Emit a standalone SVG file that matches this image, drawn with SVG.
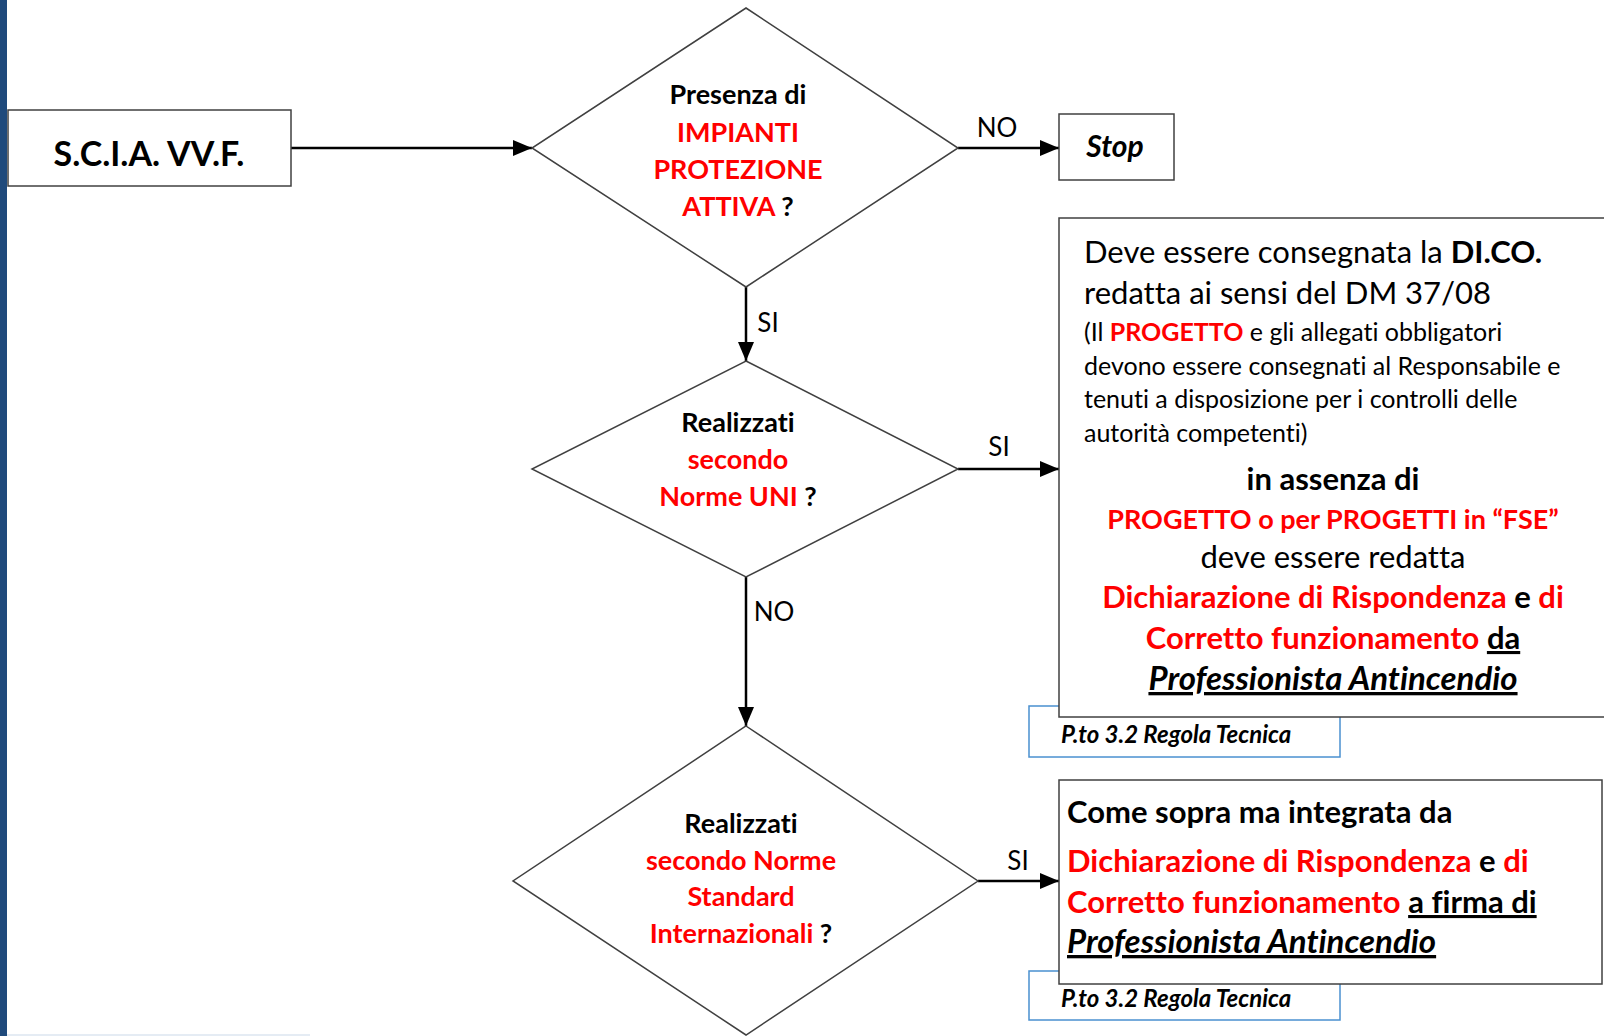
<svg xmlns="http://www.w3.org/2000/svg" width="1604" height="1036" viewBox="0 0 1604 1036">
<style>
.shape{fill:#fff;stroke:#404040;stroke-width:1.5}
.note{fill:#fff;stroke:#4A90D0;stroke-width:1.5}
.conn{fill:none;stroke:#000;stroke-width:2.5}
text{font-family:Lato,"Liberation Sans",sans-serif;fill:#000;font-variant-ligatures:none;font-feature-settings:"liga" 0,"clig" 0,"dlig" 0}
.b{font-weight:bold}
.r{fill:#FF0000}
.lbl{font-size:26px}
.dt{font-size:27px;font-weight:bold;text-anchor:middle}
.big{font-size:31px}
.sm{font-size:25px}
.it{font-style:italic;font-size:33px}
.ptext{font-size:24px;font-weight:bold;font-style:italic}
.u{text-decoration:underline}
</style>
<defs>
<marker id="ah" markerWidth="19" markerHeight="16" refX="19" refY="8" orient="auto" markerUnits="userSpaceOnUse">
<path d="M0,0 L19,8 L0,16 Z" fill="#000"/>
</marker>
</defs>
<rect x="0" y="0" width="1604" height="1036" fill="#fff"/>
<rect x="0" y="0" width="7" height="1036" fill="#1F4A7C"/>
<line x1="7" y1="1035" x2="310" y2="1035" stroke="#DCE6F0" stroke-width="1.5"/>

<g id="connectors">
<line class="conn" x1="291" y1="148" x2="532" y2="148" marker-end="url(#ah)"/>
<line class="conn" x1="958" y1="148" x2="1059" y2="148" marker-end="url(#ah)"/>
<line class="conn" x1="746" y1="287" x2="746" y2="361" marker-end="url(#ah)"/>
<line class="conn" x1="958" y1="469" x2="1059" y2="469" marker-end="url(#ah)"/>
<line class="conn" x1="746" y1="577" x2="746" y2="726" marker-end="url(#ah)"/>
<line class="conn" x1="978" y1="881" x2="1059" y2="881" marker-end="url(#ah)"/>
<text class="lbl" x="997" y="137" text-anchor="middle">NO</text>
<text class="lbl" x="768" y="332" text-anchor="middle">SI</text>
<text class="lbl" x="999" y="456" text-anchor="middle">SI</text>
<text class="lbl" x="774" y="621" text-anchor="middle">NO</text>
<text class="lbl" x="1018" y="870" text-anchor="middle">SI</text>
</g>

<g id="scia">
<rect class="shape" x="8" y="110" width="283" height="76"/>
<text x="149" y="166" text-anchor="middle" class="b" font-size="34">S.C.I.A. VV.F.</text>
</g>

<g id="d1">
<polygon class="shape" points="746,8 958,148 746,287 532,148"/>
<text class="dt" x="738" y="104">Presenza di</text>
<text class="dt r" x="738" y="142">IMPIANTI</text>
<text class="dt r" x="738" y="179">PROTEZIONE</text>
<text class="dt" x="738" y="216"><tspan class="r">ATTIVA</tspan> ?</text>
</g>

<g id="stop">
<rect class="shape" x="1059" y="114" width="115" height="66"/>
<text x="1115" y="157" text-anchor="middle" font-size="30" font-weight="bold" font-style="italic">Stop</text>
</g>

<g id="d2">
<polygon class="shape" points="746,361 958,469 746,577 532,469"/>
<text class="dt" x="738" y="432">Realizzati</text>
<text class="dt r" x="738" y="469">secondo</text>
<text class="dt" x="738" y="506"><tspan class="r">Norme UNI</tspan> ?</text>
</g>

<g id="note1">
<rect class="note" x="1029" y="706" width="311" height="51"/>
<text class="ptext" x="1061" y="743">P.to 3.2 Regola Tecnica</text>
</g>

<g id="box1">
<rect class="shape" x="1059" y="218" width="600" height="499"/>
<text class="big" x="1084" y="263">Deve essere consegnata la <tspan class="b">DI.CO.</tspan></text>
<text class="big" x="1084" y="304">redatta ai sensi del DM 37/08</text>
<text class="sm" x="1084" y="341">(Il <tspan class="b r">PROGETTO</tspan> e gli allegati obbligatori</text>
<text class="sm" x="1084" y="375">devono essere consegnati al Responsabile e</text>
<text class="sm" x="1084" y="408">tenuti a disposizione per i controlli delle</text>
<text class="sm" x="1084" y="442">autorità competenti)</text>
<text class="big b" x="1333" y="490" text-anchor="middle">in assenza di</text>
<text class="b r" x="1333" y="529" text-anchor="middle" font-size="27">PROGETTO o per PROGETTI in “FSE”</text>
<text class="big" x="1333" y="568" text-anchor="middle">deve essere redatta</text>
<text class="big b" x="1333" y="608" text-anchor="middle"><tspan class="r">Dichiarazione di Rispondenza</tspan> e <tspan class="r">di</tspan></text>
<text class="big b" x="1333" y="649" text-anchor="middle"><tspan class="r">Corretto funzionamento</tspan> <tspan class="u">da</tspan></text>
<text class="it b u" x="1333" y="690" text-anchor="middle">Professionista Antincendio</text>
</g>

<g id="d3">
<polygon class="shape" points="746,726 978,881 746,1035 513,881"/>
<text class="dt" x="741" y="833">Realizzati</text>
<text class="dt r" x="741" y="870">secondo Norme</text>
<text class="dt r" x="741" y="906">Standard</text>
<text class="dt" x="741" y="943"><tspan class="r">Internazionali</tspan> ?</text>
</g>

<g id="note2">
<rect class="note" x="1029" y="971" width="311" height="49"/>
<text class="ptext" x="1061" y="1007">P.to 3.2 Regola Tecnica</text>
</g>

<g id="box2">
<rect class="shape" x="1059" y="780" width="543" height="204"/>
<text class="big b" x="1067" y="823">Come sopra ma integrata da</text>
<text class="big b" x="1067" y="872"><tspan class="r">Dichiarazione di Rispondenza</tspan> e <tspan class="r">di</tspan></text>
<text class="big b" x="1067" y="913"><tspan class="r">Corretto funzionamento</tspan> <tspan class="u">a firma di</tspan></text>
<text class="it b u" x="1067" y="953">Professionista Antincendio</text>
</g>
</svg>
